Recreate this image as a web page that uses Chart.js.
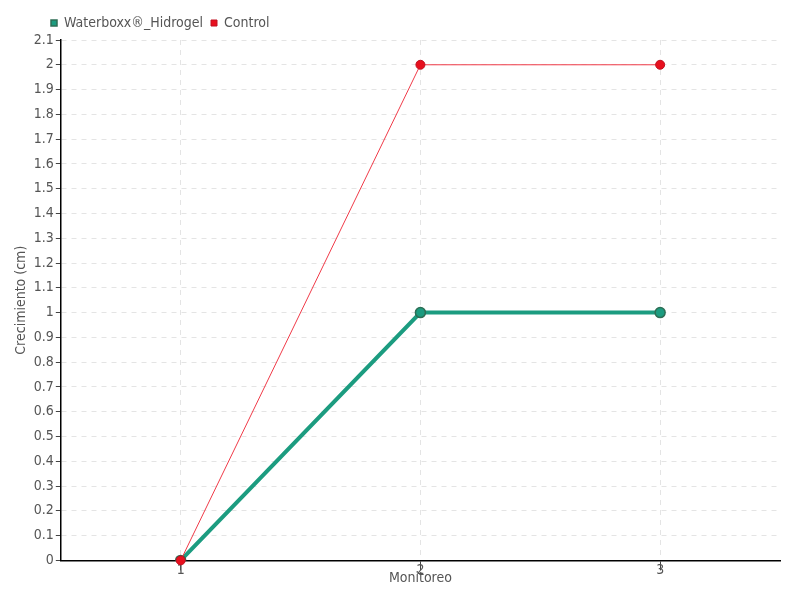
<!DOCTYPE html>
<html><head><meta charset="utf-8">
<script src="https://cdn.jsdelivr.net/npm/chart.js@4"></script>
<style>html,body{margin:0;padding:0;background:#fff}#wrap{width:800px;height:600px}</style>
</head><body><div id="wrap"><canvas id="c" width="800" height="600"></canvas></div>
<script>
const categories = ['1', '2', '3'];
const waterboxx = [0, 1, 1];
const control = [0, 2, 2];
const FONT = '"DejaVu Sans Condensed", "Liberation Sans Narrow", "DejaVu Sans", sans-serif';
Chart.defaults.font.family = FONT;
Chart.defaults.color = '#555';
const shiftLegend = {
  id: 'shiftLegend',
  afterLayout(chart) {
    const lg = chart.legend;
    if (!lg) return;
    lg.left += 34; lg.right += 34;
    if (typeof lg.adjustHitBoxes === 'function') lg.adjustHitBoxes();
  }
};
new Chart(document.getElementById('c'), {
  type: 'line',
  plugins: [shiftLegend],
  data: {
    labels: categories,
    datasets: [
      {label: 'Waterboxx®_Hidrogel', data: waterboxx, borderColor: '#1c9c80', backgroundColor: '#1c9c80',
       pointBackgroundColor: '#1c9c80', pointBorderColor: '#2e6e55', pointBorderWidth: 1.5,
       borderWidth: 4, pointRadius: 5, tension: 0, order: 1},
      {label: 'Control', data: control, borderColor: '#f03a48', backgroundColor: '#e8101e',
       pointBackgroundColor: '#e8101e', pointBorderColor: '#c01020', pointBorderWidth: 1,
       borderWidth: 1, pointRadius: 4.5, tension: 0, order: 0, clip: false}
    ]
  },
  options: {
    responsive: false, animation: false,
    layout: {padding: {left: 9, right: 20, top: 8, bottom: 13}},
    plugins: {
      legend: {position: 'top', align: 'start',
        labels: {usePointStyle: true, pointStyle: 'rect', boxWidth: 6, boxHeight: 6, padding: 8,
                 font: {size: 14}, color: '#555', sort: (a, b) => a.datasetIndex - b.datasetIndex}},
      tooltip: {enabled: false}
    },
    scales: {
      x: {
        offset: true,
        grid: {color: '#e4e4e4', offset: false, tickLength: 10, tickColor: '#444', drawTicks: true},
        border: {color: '#000', width: 1.5, dash: [5,5]},
        ticks: {font: {size: 14}, color: '#555', padding: -8},
        title: {display: true, text: 'Monitoreo', font: {size: 14}, color: '#555', padding: {top: -1, bottom: 0}}
      },
      y: {
        min: 0, max: 2.1,
        grid: {color: '#e4e4e4', tickLength: 5, tickColor: '#444'},
        border: {color: '#000', width: 1.5, dash: [5,5]},
        ticks: {stepSize: 0.1, autoSkip: false, font: {size: 14}, color: '#555', padding: 2,
          callback: v => String(Number(v.toFixed(1)))},
        title: {display: true, text: 'Crecimiento (cm)', font: {size: 14}, color: '#555', padding: {bottom: 2}}
      }
    }
  }
});
</script></body></html>
